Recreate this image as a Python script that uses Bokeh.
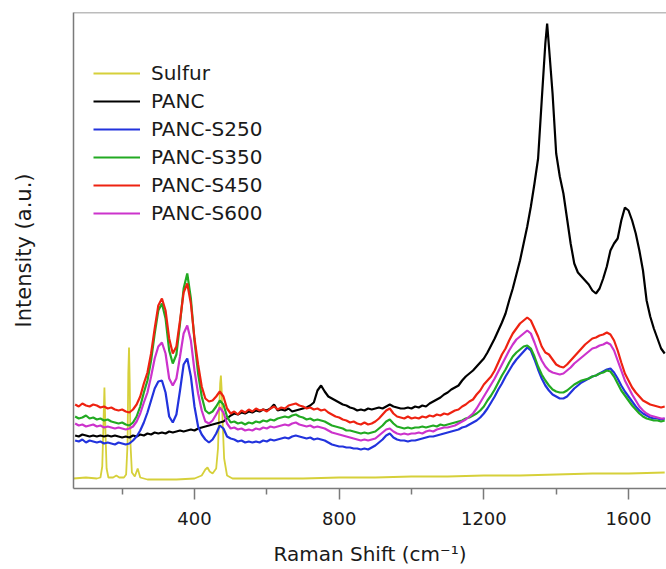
from bokeh.plotting import figure
from bokeh.models import Range1d, FixedTicker, Span
from bokeh.embed import file_html
from bokeh.resources import INLINE

# Raman shift grid (cm^-1) shared by the PANC-S spectra
wavenumber = list(range(70, 1701, 10))

panc_s450 = [
    84, 82, 85, 83, 82, 84, 83, 81, 82, 80,
    81, 79, 78, 79, 77, 76, 79, 84, 92, 105,
    116, 135, 160, 183, 190, 178, 150, 135, 142, 168,
    196, 205, 185, 150, 124, 102, 90, 87, 88, 92,
    97, 92, 80, 75, 77, 74, 78, 76, 79, 77,
    80, 78, 79, 77, 80, 82, 79, 81, 80, 83,
    84, 85, 83, 82, 80, 81, 79, 80, 78, 79,
    76, 74, 72, 71, 69, 68, 66, 67, 65, 64,
    66, 64, 65, 67, 70, 74, 78, 80, 75, 72,
    71, 70, 72, 70, 71, 70, 72, 71, 73, 72,
    74, 73, 75, 74, 76, 78, 79, 82, 84, 87,
    89, 94, 98, 104, 108, 112, 118, 126, 134, 140,
    148, 155, 160, 165, 168, 171, 168, 160, 152, 142,
    136, 134, 129, 124, 122, 121, 124, 128, 132, 136,
    140, 144, 147, 150, 151, 153, 154, 156, 154, 148,
    138, 126, 115, 108, 101, 96, 92, 88, 86, 84,
    83, 82, 81, 82,
]

panc_s350 = [
    72, 70, 71, 73, 70, 71, 69, 70, 68, 69,
    67, 66, 65, 66, 64, 63, 66, 72, 82, 96,
    108, 128, 155, 178, 185, 170, 138, 125, 134, 165,
    200, 215, 190, 148, 115, 92, 78, 75, 77, 82,
    88, 84, 72, 66, 67, 65, 66, 64, 66, 65,
    67, 66, 68, 67, 69, 68, 70, 71, 72, 71,
    73, 74, 72, 71, 69, 70, 68, 69, 68, 67,
    65, 63, 62, 61, 60, 58, 58, 57, 56, 55,
    56, 55, 56, 57, 60, 63, 67, 69, 65, 62,
    61, 60, 61, 60, 61, 61, 62, 61, 62, 63,
    62, 64, 63, 64, 65, 66, 67, 68, 70, 71,
    73, 75, 78, 82, 88, 93, 99, 106, 113, 119,
    126, 132, 136, 139, 142, 143, 140, 132, 122, 114,
    108, 103, 99, 97, 96, 96, 98, 101, 104, 106,
    108, 109, 110, 112, 113, 115, 116, 118, 117, 112,
    105, 98, 93, 88, 83, 79, 75, 72, 70, 69,
    68, 68, 67, 68,
]

panc_s600 = [
    65, 63, 64, 62, 63, 64, 62, 63, 61, 62,
    61, 60, 61, 60, 59, 60, 62, 67, 75, 86,
    96, 112, 130, 142, 146, 135, 110, 103, 110, 132,
    155, 163, 148, 118, 95, 78, 67, 65, 68, 74,
    81, 76, 65, 60, 61, 59, 60, 58, 59, 58,
    60, 59, 61, 60, 62, 61, 62, 63, 64, 63,
    65, 66, 64, 63, 62, 63, 61, 62, 61, 60,
    58, 56, 55, 54, 53, 52, 51, 50, 49, 48,
    49, 48, 49, 50, 53, 56, 59, 60, 57, 55,
    54, 55, 54, 55, 55, 56, 55, 57, 58, 57,
    59, 60, 61, 61, 62, 63, 65, 67, 69, 72,
    75, 80, 86, 92, 98, 104, 110, 117, 124, 131,
    138, 144, 149, 152, 155, 158, 155, 146, 136, 128,
    122, 118, 116, 115, 114, 115, 118, 121, 125, 128,
    131, 134, 137, 140, 141, 143, 144, 146, 144, 138,
    128, 118, 108, 101, 94, 88, 82, 78, 75, 73,
    72, 71, 70, 70,
]

panc_s250 = [
    48, 47, 49, 46, 48, 47, 46, 47, 45, 46,
    45, 44, 46, 45, 44, 45, 48, 52, 58, 66,
    76, 88, 100, 107, 108, 96, 72, 66, 74, 98,
    124, 130, 112, 82, 62, 54, 49, 46, 49, 55,
    63, 60, 52, 50, 49, 47, 48, 46, 47, 46,
    47, 46, 48, 47, 49, 48, 49, 50, 51, 50,
    52, 53, 52, 51, 50, 51, 49, 50, 49, 48,
    46, 44, 43, 42, 42, 41, 41, 40, 40, 39,
    40, 39, 41, 43, 46, 49, 53, 55, 51, 49,
    48, 48, 47, 48, 48, 49, 50, 51, 52, 52,
    53, 54, 55, 56, 57, 58, 59, 61, 62, 64,
    66, 68, 71, 75, 80, 86, 92, 99, 105, 112,
    118, 124, 129, 133, 137, 141, 138, 129, 119, 110,
    103, 98, 94, 92, 90, 90, 92, 96, 100, 103,
    106, 108, 110, 112, 113, 115, 117, 119, 120, 116,
    110, 103, 97, 92, 87, 82, 78, 75, 73, 71,
    70, 70, 69, 70,
]

# PANC uses the same grid plus its D-band apex at 1375 cm^-1
panc_x = wavenumber[:131] + [1375] + wavenumber[131:]
panc = [
    53, 52, 54, 53, 52, 53, 52, 53, 52, 53,
    52, 53, 52, 51, 52, 51, 53, 52, 54, 53,
    55, 54, 56, 55, 56, 55, 57, 56, 57, 58,
    57, 58, 59, 58, 60, 61, 62, 63, 64, 65,
    66, 67, 70, 73, 75, 74, 76, 75, 77, 76,
    78, 77, 79, 78, 80, 84, 78, 79, 78, 80,
    77, 78, 79, 80, 81, 83, 86, 98, 103, 97,
    92, 90, 88, 86, 84, 83, 81, 80, 78, 79,
    78, 80, 79, 80, 81, 80, 82, 84, 82, 81,
    80, 80, 81, 80, 82, 81, 83, 82, 85, 87,
    89, 91, 94, 96, 99, 101, 103, 108, 112, 115,
    118, 122, 126, 130, 136, 143, 150, 158, 166, 175,
    188, 200, 214, 228, 245, 262, 282, 305, 330, 388,
    445, 465, 442, 395, 335, 312, 295, 270, 245, 225, 216,
    212, 208, 204, 198, 195, 200, 210, 222, 238, 245,
    250, 268, 281, 278, 268, 255, 238, 218, 188, 172,
    160, 150, 140, 135,
]

sulfur_x = [65, 100, 130, 140, 145, 148, 151, 154, 157, 162, 175, 184, 192, 205,
            211, 215, 217, 219, 221, 223, 227, 235, 243, 250, 270, 300, 350, 400,
            420, 430, 436, 442, 450, 460, 465, 468, 471, 473, 475, 478, 482, 490,
            505, 550, 600, 700, 800, 900, 1000, 1100, 1200, 1300, 1400, 1500, 1600, 1700]
sulfur = [10, 11, 10, 11, 22, 60, 101, 55, 20, 11, 11, 13, 11, 11,
          14, 45, 115, 141, 105, 45, 16, 12, 20, 11, 9, 9, 9, 10,
          13, 19, 21, 17, 15, 20, 40, 75, 105, 113, 100, 65, 30, 13,
          10, 10, 10, 10, 11, 11, 12, 12, 13, 13, 14, 15, 15, 16]

xticks = [400, 800, 1200, 1600]
xminor = [200, 600, 1000, 1400]

FONT = "DejaVu Sans"
GRAY = "#7a7a7a"
TXT = "#1a1a1a"

p = figure(width=666, height=569, output_backend="svg", toolbar_location=None,
           x_range=Range1d(65.5, 1705), y_range=Range1d(0, 476),
           min_border_left=73, min_border_right=0, min_border_top=12,
           min_border_bottom=81)
p.outline_line_color = None
p.grid.visible = False
p.background_fill_color = "white"

p.line(sulfur_x, sulfur, color="#d6d03a", line_width=1.8, legend_label="Sulfur")
p.line(panc_x, panc, color="black", line_width=2.2, legend_label="PANC")
p.line(wavenumber, panc_s250, color="#2233dd", line_width=2.2, legend_label="PANC-S250")
p.line(wavenumber, panc_s350, color="#22aa22", line_width=2.2, legend_label="PANC-S350")
p.line(wavenumber, panc_s450, color="#ee2211", line_width=2.2, legend_label="PANC-S450")
p.line(wavenumber, panc_s600, color="#cc33cc", line_width=2.2, legend_label="PANC-S600")

p.add_layout(Span(location=476, dimension="width", line_color=GRAY, line_width=1.5))

xa = p.xaxis[0]
xa.ticker = FixedTicker(ticks=xticks, minor_ticks=xminor)
xa.axis_line_color = GRAY
xa.axis_line_width = 1.5
xa.major_tick_line_color = GRAY
xa.minor_tick_line_color = GRAY
xa.major_tick_line_width = 1.5
xa.minor_tick_line_width = 1.5
xa.major_tick_in = 0
xa.major_tick_out = 11
xa.minor_tick_in = 0
xa.minor_tick_out = 6
xa.major_label_text_font = FONT
xa.major_label_text_font_size = "18px"
xa.major_label_text_color = TXT
xa.major_label_standoff = 12
xa.axis_label = "Raman Shift (cm⁻¹)"
xa.axis_label_text_font = FONT
xa.axis_label_text_font_size = "20px"
xa.axis_label_text_font_style = "normal"
xa.axis_label_text_color = TXT
xa.axis_label_standoff = 14

ya = p.yaxis[0]
ya.ticker = FixedTicker(ticks=[])
ya.axis_line_color = GRAY
ya.axis_line_width = 1.5
ya.major_tick_line_color = None
ya.minor_tick_line_color = None
ya.axis_label = "Intensity (a.u.)"
ya.axis_label_text_font = FONT
ya.axis_label_text_font_size = "21px"
ya.axis_label_text_font_style = "normal"
ya.axis_label_text_color = TXT
ya.axis_label_standoff = 38

lg = p.legend[0]
lg.location = (20, 261)
lg.border_line_color = None
lg.background_fill_alpha = 0
lg.label_text_font = FONT
lg.label_text_font_size = "20px"
lg.label_text_color = TXT
lg.glyph_width = 47
lg.glyph_height = 28
lg.label_height = 28
lg.label_standoff = 11
lg.spacing = 0
lg.padding = 0
lg.margin = 0

open("out.html", "w").write(file_html(p, INLINE))
